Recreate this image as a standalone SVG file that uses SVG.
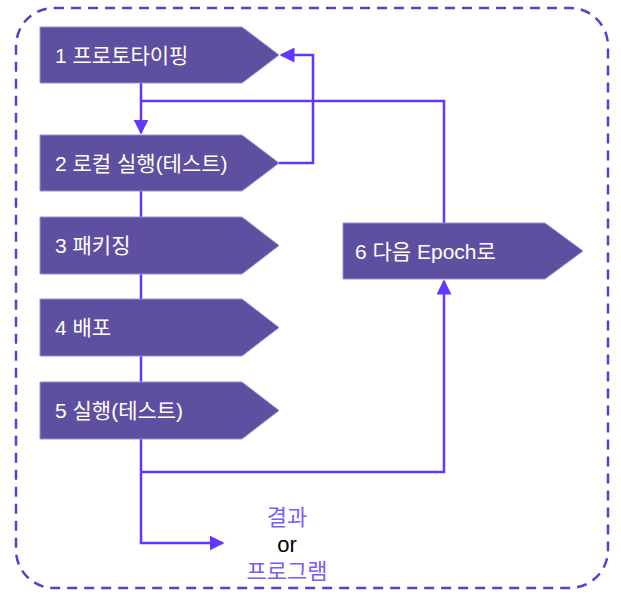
<svg xmlns="http://www.w3.org/2000/svg" width="621" height="600" viewBox="0 0 621 600">
<style>
.node{fill:#5f4fa0;stroke:#9b8fd6;stroke-width:1}
.lbl{font-family:"Liberation Sans","Noto Sans CJK KR",sans-serif;font-size:21px;fill:#ffffff}
.out{font-family:"Liberation Sans","Noto Sans CJK KR",sans-serif;font-size:22px;text-anchor:middle}
.conn{fill:none;stroke:#6236ff;stroke-width:2.5}
</style>
<defs>
<marker id="arr" viewBox="0 0 10 10" refX="9" refY="5" markerWidth="6" markerHeight="6" markerUnits="strokeWidth" orient="auto">
<path d="M0,0 L10,5 L0,10 z" fill="#6236ff"/>
</marker>
</defs>
<rect x="16" y="8" width="592" height="580" rx="38" ry="38" fill="none" stroke="#5a3fc8" stroke-width="2.5" stroke-dasharray="10,7"/>
<g id="connectors">
<path class="conn" d="M141,83 V101 M141,101 V133" marker-end="url(#arr)"/>
<path class="conn" d="M444,223 V101 H141"/>
<path class="conn" d="M279,163 H313 V55 H281" marker-end="url(#arr)"/>
<path class="conn" d="M141,191 V217 M141,274 V299 M141,356 V382 M141,439 V543 H223" marker-end="url(#arr)"/>
<path class="conn" d="M141,472 H444 V281" marker-end="url(#arr)"/>
</g>
<g id="n1"><path class="node" d="M40,27 H242 L279,55 L242,83 H40 Z"/><text class="lbl" x="55" y="63">1 프로토타이핑</text></g>
<g id="n2"><path class="node" d="M40,135 H242 L279,163 L242,191 H40 Z"/><text class="lbl" x="55" y="171">2 로컬 실행(테스트)</text></g>
<g id="n3"><path class="node" d="M40,217 H242 L279,245.5 L242,274 H40 Z"/><text class="lbl" x="55" y="253">3 패키징</text></g>
<g id="n4"><path class="node" d="M40,299 H242 L279,327.5 L242,356 H40 Z"/><text class="lbl" x="55" y="335">4 배포</text></g>
<g id="n5"><path class="node" d="M40,382 H242 L279,410.5 L242,439 H40 Z"/><text class="lbl" x="55" y="418">5 실행(테스트)</text></g>
<g id="n6"><path class="node" d="M343,223 H545 L583,251 L545,279 H343 Z"/><text class="lbl" x="355" y="259">6 다음 Epoch로</text></g>
<g id="result">
<text class="out" x="287" y="525" fill="#7a5cff">결과</text>
<text class="out" x="287" y="552" fill="#000000">or</text>
<text class="out" x="287" y="579" fill="#7a5cff">프로그램</text>
</g>
</svg>
